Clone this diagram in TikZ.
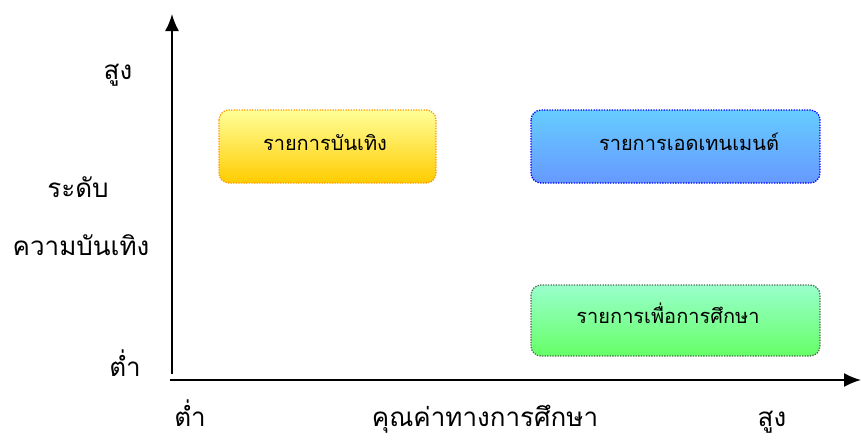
\documentclass[tikz,border=0pt]{standalone}
\usepackage{fontspec}
\newfontfamily\thaifont[Script=Thai]{Loma}
\usetikzlibrary{arrows.meta}
\definecolor{yTop}{HTML}{FFFF99}
\definecolor{yBot}{HTML}{FFCC00}
\definecolor{yLine}{HTML}{FF9900}
\definecolor{bTop}{HTML}{66CCFF}
\definecolor{bBot}{HTML}{6699FF}
\definecolor{bLine}{HTML}{0000FF}
\definecolor{gTop}{HTML}{99FFCC}
\definecolor{gBot}{HTML}{66FF66}
\definecolor{gLine}{HTML}{4D6B4D}
\tikzset{
  prog/.style={rounded corners=10pt, line width=1.3pt, dash pattern=on 1.3pt off 1.3pt},
  axislbl/.style={font=\thaifont\fontsize{26}{30}\selectfont, inner sep=0pt, anchor=base},
  boxlbl/.style={font=\thaifont\fontsize{20}{24}\selectfont, inner sep=0pt, anchor=base},
  axisline/.style={line width=1.8pt, -{Latex[length=17pt,width=14pt]}}
}
\begin{document}
\begin{tikzpicture}[x=1pt,y=-1pt]
\useasboundingbox (0,0) rectangle (861,439);
% boxes
\draw[prog, draw=yLine, top color=yTop, bottom color=yBot] (219,110) rectangle (436,183);
\draw[prog, draw=bLine, top color=bTop, bottom color=bBot] (531,110) rectangle (820,183);
\draw[prog, draw=gLine, top color=gTop, bottom color=gBot] (531,285) rectangle (820,356);
\node[boxlbl] (ent) at (325,150) {รายการบันเทิง};
\node[boxlbl] (edu) at (689,150) {รายการเอดเทนเมนต์};
\node[boxlbl] (stu) at (668,323) {รายการเพื่อการศึกษา};
% axes
\coordinate (yb) at (172,374);
\coordinate (yt) at (172,14);
\coordinate (xl) at (170,380);
\coordinate (xr) at (861,380);
\draw[axisline] (yb) -- (yt);
\draw[axisline] (xl) -- (xr);
% labels
\node[axislbl] (yhigh) at (118,79) {สูง};
\node[axislbl] (ylab1) at (78,197) {ระดับ};
\node[axislbl] (ylab2) at (81,255) {ความบันเทิง};
\node[axislbl] (ylow) at (125,376) {ต่ำ};
\node[axislbl] (xlow) at (190,426) {ต่ำ};
\node[axislbl] (xlab) at (485,426) {คุณค่าทางการศึกษา};
\node[axislbl] (xhigh) at (772,426) {สูง};
\end{tikzpicture}
\end{document}
